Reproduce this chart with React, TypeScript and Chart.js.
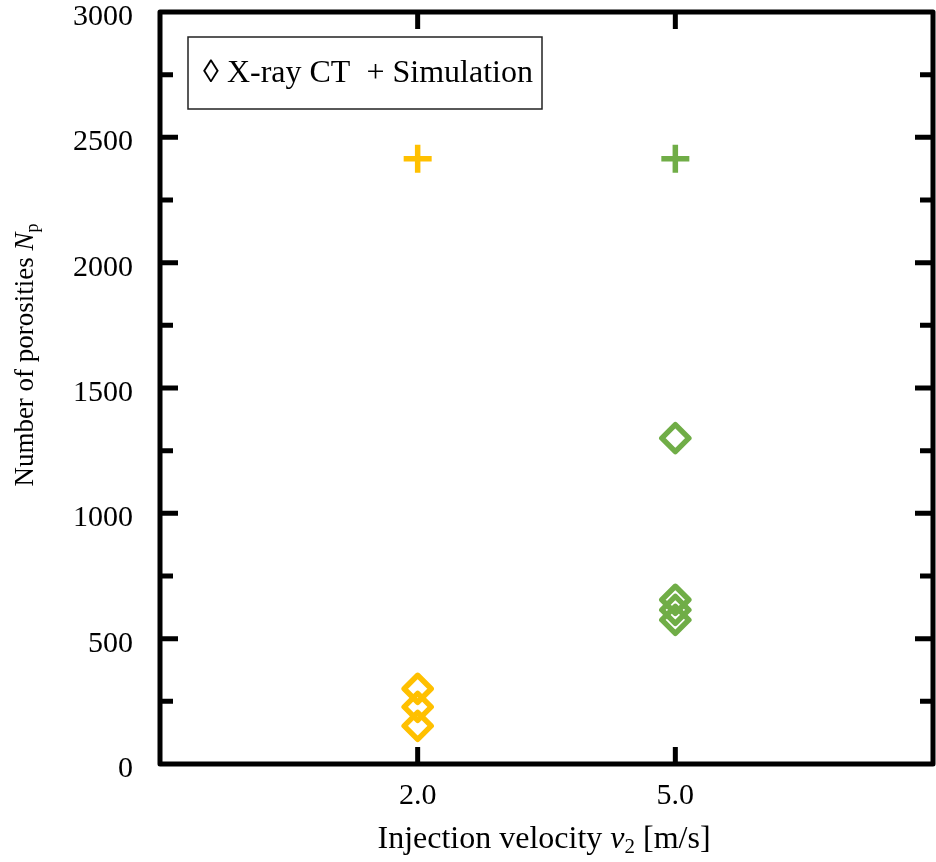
import React, { useEffect, useRef } from 'react';
import { Chart, registerables } from 'chart.js';

Chart.register(...registerables);

// ---- data ----
const categories = ['2.0', '5.0'];
const categoryPositions = [1, 2];
const xrayCT20 = [300, 228, 152];
const xrayCT50 = [1300, 655, 615, 575];
const simulation = [2415, 2415];
const seriesNames = ['X-ray CT', 'Simulation'];
const categoryColors = ['#FFC000', '#70AD47'];
const yMajorTicks = [0, 500, 1000, 1500, 2000, 2500, 3000];
const yMinorTicks = [250, 750, 1250, 1750, 2250, 2750];

const SERIF = '"Liberation Serif", "Times New Roman", serif';

type Run = { text: string; font: string; dy?: number };

function drawRuns(ctx: CanvasRenderingContext2D, runs: Run[], cx: number, y: number) {
  let total = 0;
  for (const r of runs) {
    ctx.font = r.font;
    total += ctx.measureText(r.text).width;
  }
  let x = cx - total / 2;
  ctx.textAlign = 'left';
  ctx.textBaseline = 'alphabetic';
  for (const r of runs) {
    ctx.font = r.font;
    ctx.fillText(r.text, x, y + (r.dy || 0));
    x += ctx.measureText(r.text).width;
  }
}

const framePlugin = {
  id: 'frameTicks',
  beforeDatasetsDraw(chart: any) {
    const { ctx, chartArea } = chart;
    const { left, right, top, bottom } = chartArea;
    const ys = chart.scales.y;
    const xs = chart.scales.x;
    ctx.save();
    ctx.strokeStyle = '#000';
    ctx.lineWidth = 5;
    ctx.lineJoin = 'round';
    ctx.strokeRect(left, top, right - left, bottom - top);
    ctx.beginPath();
    for (const v of yMajorTicks) {
      if (v === 0 || v === 3000) continue;
      const py = ys.getPixelForValue(v);
      ctx.moveTo(left, py);
      ctx.lineTo(left + 18, py);
      ctx.moveTo(right, py);
      ctx.lineTo(right - 18, py);
    }
    for (const v of yMinorTicks) {
      const py = ys.getPixelForValue(v);
      ctx.moveTo(left, py);
      ctx.lineTo(left + 13, py);
      ctx.moveTo(right, py);
      ctx.lineTo(right - 13, py);
    }
    for (const v of categoryPositions) {
      const px = xs.getPixelForValue(v);
      ctx.moveTo(px, bottom);
      ctx.lineTo(px, bottom - 17);
      ctx.moveTo(px, top);
      ctx.lineTo(px, top + 17);
    }
    ctx.stroke();
    ctx.restore();
    ctx.lineJoin = 'round';
  },
  afterDatasetsDraw(chart: any) {
    chart.ctx.lineJoin = 'miter';
  },
  afterDraw(chart: any) {
    const { ctx } = chart;
    ctx.save();
    ctx.fillStyle = '#000';
    // x title
    drawRuns(
      ctx,
      [
        { text: 'Injection velocity ', font: `32px ${SERIF}` },
        { text: 'v', font: `italic 32px ${SERIF}` },
        { text: '2', font: `21px ${SERIF}`, dy: 5 },
        { text: ' [m/s]', font: `32px ${SERIF}` },
      ],
      544,
      848
    );
    // y title
    ctx.save();
    ctx.translate(33, 355);
    ctx.rotate(-Math.PI / 2);
    drawRuns(
      ctx,
      [
        { text: 'Number of porosities ', font: `27px ${SERIF}` },
        { text: 'N', font: `italic 27px ${SERIF}` },
        { text: 'p', font: `18px ${SERIF}`, dy: 5 },
      ],
      0,
      0
    );
    ctx.restore();
    // legend
    ctx.strokeStyle = '#222';
    ctx.lineWidth = 1.5;
    ctx.strokeRect(188, 37, 354, 72);
    ctx.font = `32px ${SERIF}`;
    ctx.textAlign = 'center';
    ctx.textBaseline = 'alphabetic';
    ctx.fillText(`\u25CA ${seriesNames[0]}  + ${seriesNames[1]}`, 368, 82);
    ctx.restore();
  },
};

export default function App() {
  const ref = useRef<HTMLCanvasElement>(null);
  useEffect(() => {
    document.body.style.margin = '0';
    const canvas = ref.current!;
    const xrayData = [
      ...xrayCT20.map((y) => ({ x: categoryPositions[0], y })),
      ...xrayCT50.map((y) => ({ x: categoryPositions[1], y })),
    ];
    const xrayColors = [
      ...xrayCT20.map(() => categoryColors[0]),
      ...xrayCT50.map(() => categoryColors[1]),
    ];
    const simData = simulation.map((y, i) => ({ x: categoryPositions[i], y }));
    const chart = new Chart(canvas, {
      type: 'scatter',
      data: {
        datasets: [
          {
            label: seriesNames[0],
            data: xrayData,
            pointStyle: 'rectRot',
            pointRadius: 13.5,
            pointBorderWidth: 5.5,
            pointBorderColor: xrayColors,
            pointBackgroundColor: 'rgba(0,0,0,0)',
            showLine: false,
          },
          {
            label: seriesNames[1],
            data: simData,
            pointStyle: 'cross',
            pointRadius: 14,
            pointBorderWidth: 5.5,
            pointBorderColor: categoryColors,
            pointBackgroundColor: categoryColors,
            showLine: false,
          },
        ],
      } as any,
      options: {
        animation: false,
        responsive: false,
        maintainAspectRatio: false,
        clip: false,
        layout: { autoPadding: false, padding: { top: 12, right: 3, left: 0, bottom: 0 } },
        plugins: { legend: { display: false }, tooltip: { enabled: false } },
        scales: {
          x: {
            type: 'linear',
            min: 0,
            max: 3,
            afterBuildTicks: (s: any) => {
              s.ticks = categoryPositions.map((v) => ({ value: v }));
            },
            afterFit: (s: any) => {
              s.height = 98;
              s.paddingLeft = 0;
              s.paddingRight = 0;
              s.paddingTop = 0;
              s.paddingBottom = 0;
            },
            ticks: {
              callback: (v: any) => {
                const i = categoryPositions.indexOf(Number(v));
                return i >= 0 ? categories[i] : '';
              },
              font: { family: SERIF, size: 30 },
              color: '#000',
              padding: 14,
              maxRotation: 0,
              autoSkip: false,
            },
            grid: { display: false, drawTicks: false },
            border: { display: false },
          },
          y: {
            type: 'linear',
            min: 0,
            max: 3000,
            afterBuildTicks: (s: any) => {
              s.ticks = yMajorTicks.map((v) => ({ value: v }));
            },
            afterFit: (s: any) => {
              s.width = 160;
              s.paddingLeft = 0;
              s.paddingRight = 0;
              s.paddingTop = 0;
              s.paddingBottom = 0;
            },
            ticks: {
              callback: (v: any) => String(v),
              font: { family: SERIF, size: 30 },
              color: '#000',
              padding: 27,
              labelOffset: 5,
              autoSkip: false,
            },
            grid: { display: false, drawTicks: false },
            border: { display: false },
          },
        },
      } as any,
      plugins: [framePlugin],
    });
    return () => chart.destroy();
  }, []);
  return (
    <div style={{ width: 936, height: 862 }}>
      <canvas ref={ref} width={936} height={862} style={{ display: 'block' }} />
    </div>
  );
}
